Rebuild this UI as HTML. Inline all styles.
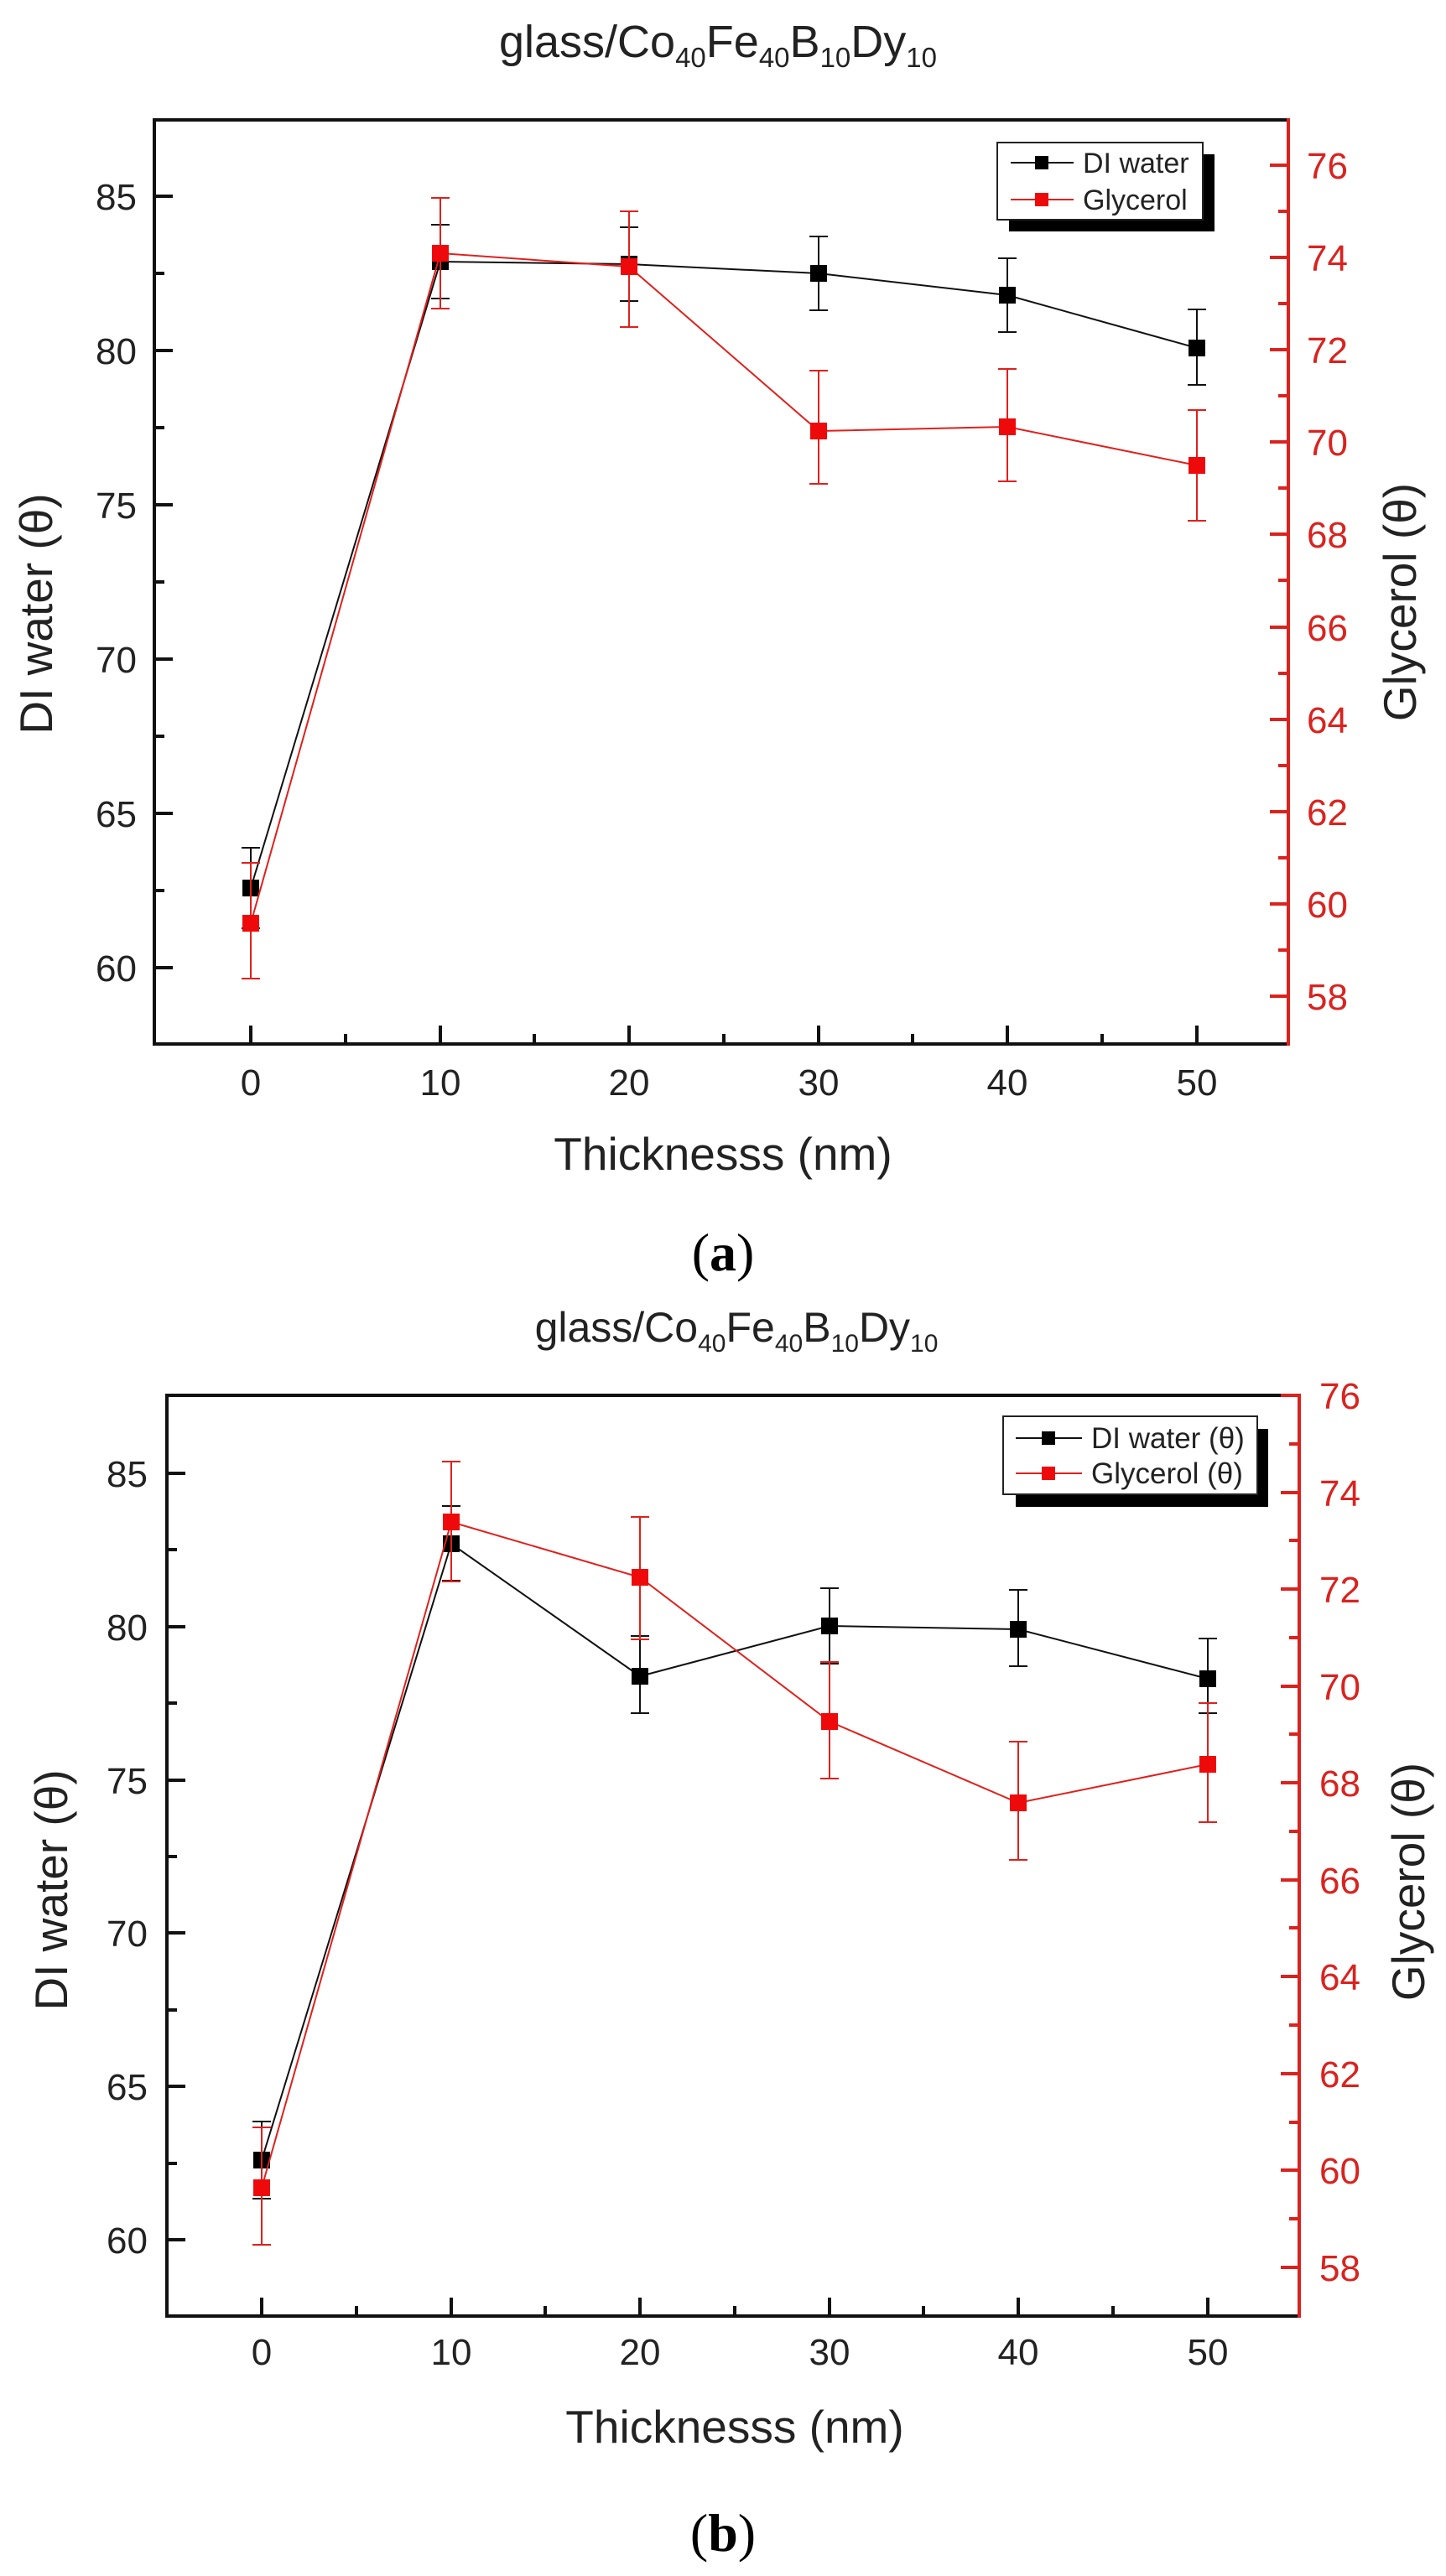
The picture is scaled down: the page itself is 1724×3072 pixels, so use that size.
<!DOCTYPE html>
<html><head><meta charset="utf-8"><style>
html,body{margin:0;padding:0;background:#fff;}
svg{display:block;font-family:"Liberation Sans",Arial,sans-serif;}
</style></head><body>
<svg width="1724" height="3072" viewBox="0 0 1724 3072" xmlns="http://www.w3.org/2000/svg">
<rect width="1724" height="3072" fill="#fff"/>

<!-- ================= CHART A ================= -->
<text x="856" y="68" font-size="54" text-anchor="middle" fill="#222">glass/Co<tspan font-size="33" dy="12">40</tspan><tspan dy="-12">Fe</tspan><tspan font-size="33" dy="12">40</tspan><tspan dy="-12">B</tspan><tspan font-size="33" dy="12">10</tspan><tspan dy="-12">Dy</tspan><tspan font-size="33" dy="12">10</tspan></text>

<g stroke="#111" stroke-width="4" fill="none">
<path d="M184 143 H1536 M184 141 V1247 M182 1245 H1536"/>
<path d="M184 234 h22 M184 418 h22 M184 602 h22 M184 786 h22 M184 970 h22 M184 1154 h22"/>
<path d="M184 326 h12 M184 510 h12 M184 694 h12 M184 878 h12 M184 1062 h12"/>
<path d="M299 1245 v-22 M525 1245 v-22 M750 1245 v-22 M976 1245 v-22 M1201 1245 v-22 M1427 1245 v-22"/>
<path d="M412 1245 v-12 M637 1245 v-12 M863 1245 v-12 M1088 1245 v-12 M1314 1245 v-12"/>
</g>
<g stroke="#d9231f" stroke-width="4" fill="none">
<path d="M1536 141 V1247"/>
<path d="M1536 197 h-22 M1536 307 h-22 M1536 417 h-22 M1536 527 h-22 M1536 637 h-22 M1536 748 h-22 M1536 858 h-22 M1536 968 h-22 M1536 1078 h-22 M1536 1188 h-22"/>
<path d="M1536 252 h-12 M1536 362 h-12 M1536 472 h-12 M1536 582 h-12 M1536 692 h-12 M1536 803 h-12 M1536 913 h-12 M1536 1023 h-12 M1536 1133 h-12"/>
</g>
<g font-size="44" fill="#222" text-anchor="end">
<text x="163" y="250">85</text><text x="163" y="434">80</text><text x="163" y="618">75</text><text x="163" y="802">70</text><text x="163" y="986">65</text><text x="163" y="1170">60</text>
</g>
<g font-size="44" fill="#d9231f">
<text x="1558" y="213">76</text><text x="1558" y="323">74</text><text x="1558" y="433">72</text><text x="1558" y="543">70</text><text x="1558" y="653">68</text><text x="1558" y="764">66</text><text x="1558" y="874">64</text><text x="1558" y="984">62</text><text x="1558" y="1094">60</text><text x="1558" y="1204">58</text>
</g>
<g font-size="44" fill="#222" text-anchor="middle">
<text x="299" y="1306">0</text><text x="525" y="1306">10</text><text x="750" y="1306">20</text><text x="976" y="1306">30</text><text x="1201" y="1306">40</text><text x="1427" y="1306">50</text>
</g>
<text x="862" y="1395" font-size="55" fill="#222" text-anchor="middle">Thicknesss (nm)</text>
<text transform="translate(62,732) rotate(-90)" font-size="55" fill="#222" text-anchor="middle">DI water (θ)</text>
<text transform="translate(1688,718) rotate(-90)" font-size="55" fill="#222" text-anchor="middle">Glycerol (θ)</text>

<g stroke="#111" stroke-width="2" fill="none">
<polyline points="299,1059 525,312 750,315 976,326 1201,352 1427,415"/>
<path d="M299 1011 V1107 M288 1011 h22 M288 1107 h22"/>
<path d="M525 268 V356 M514 268 h22 M514 356 h22"/>
<path d="M750 271 V359 M739 271 h22 M739 359 h22"/>
<path d="M976 282 V370 M965 282 h22 M965 370 h22"/>
<path d="M1201 308 V396 M1190 308 h22 M1190 396 h22"/>
<path d="M1427 369 V459 M1416 369 h22 M1416 459 h22"/>
</g>
<g fill="#000">
<rect x="289" y="1049" width="20" height="20"/><rect x="515" y="302" width="20" height="20"/><rect x="740" y="305" width="20" height="20"/><rect x="966" y="316" width="20" height="20"/><rect x="1191" y="342" width="20" height="20"/><rect x="1417" y="405" width="20" height="20"/>
</g>
<g stroke="#e0201c" stroke-width="2" fill="none">
<polyline points="299,1101 525,302 750,318 976,514 1201,509 1427,555"/>
<path d="M299 1029 V1167 M288 1029 h22 M288 1167 h22"/>
<path d="M525 236 V368 M514 236 h22 M514 368 h22"/>
<path d="M750 252 V390 M739 252 h22 M739 390 h22"/>
<path d="M976 442 V577 M965 442 h22 M965 577 h22"/>
<path d="M1201 440 V574 M1190 440 h22 M1190 574 h22"/>
<path d="M1427 489 V621 M1416 489 h22 M1416 621 h22"/>
</g>
<g fill="#ee0a0a">
<rect x="289" y="1091" width="20" height="20"/><rect x="515" y="292" width="20" height="20"/><rect x="740" y="308" width="20" height="20"/><rect x="966" y="504" width="20" height="20"/><rect x="1191" y="499" width="20" height="20"/><rect x="1417" y="545" width="20" height="20"/>
</g>
<rect x="1203" y="184" width="245" height="92" fill="#000"/>
<rect x="1189" y="170" width="245" height="92" fill="#fff" stroke="#222" stroke-width="2"/>
<path d="M1205 194 H1280" stroke="#111" stroke-width="2"/>
<rect x="1234" y="186" width="16" height="16" fill="#000"/>
<path d="M1205 238 H1280" stroke="#e0201c" stroke-width="2"/>
<rect x="1234" y="230" width="16" height="16" fill="#ee0a0a"/>
<text x="1291" y="206" font-size="34" fill="#222">DI water</text>
<text x="1291" y="250" font-size="34" fill="#222">Glycerol</text>

<text x="862" y="1515" font-size="64" text-anchor="middle" fill="#000" font-family="'Liberation Serif',serif">(<tspan font-weight="bold">a</tspan>)</text>

<!-- ================= CHART B ================= -->
<text x="878" y="1600" font-size="50" text-anchor="middle" fill="#222">glass/Co<tspan font-size="30" dy="12">40</tspan><tspan dy="-12">Fe</tspan><tspan font-size="30" dy="12">40</tspan><tspan dy="-12">B</tspan><tspan font-size="30" dy="12">10</tspan><tspan dy="-12">Dy</tspan><tspan font-size="30" dy="12">10</tspan></text>

<g stroke="#111" stroke-width="4" fill="none">
<path d="M199 1664 H1549 M199 1662 V2764 M197 2762 H1549"/>
<path d="M199 1757 h22 M199 1940 h22 M199 2123 h22 M199 2305 h22 M199 2488 h22 M199 2671 h22"/>
<path d="M199 1848 h12 M199 2031 h12 M199 2214 h12 M199 2397 h12 M199 2580 h12"/>
<path d="M312 2762 v-22 M538 2762 v-22 M763 2762 v-22 M989 2762 v-22 M1214 2762 v-22 M1440 2762 v-22"/>
<path d="M425 2762 v-12 M650 2762 v-12 M876 2762 v-12 M1101 2762 v-12 M1327 2762 v-12"/>
</g>
<g stroke="#d9231f" stroke-width="4" fill="none">
<path d="M1549 1662 V2764"/>
<path d="M1549 1664 h-22 M1549 1780 h-22 M1549 1895 h-22 M1549 2011 h-22 M1549 2126 h-22 M1549 2242 h-22 M1549 2357 h-22 M1549 2473 h-22 M1549 2588 h-22 M1549 2704 h-22"/>
<path d="M1549 1722 h-12 M1549 1837 h-12 M1549 1953 h-12 M1549 2068 h-12 M1549 2184 h-12 M1549 2299 h-12 M1549 2415 h-12 M1549 2531 h-12 M1549 2646 h-12"/>
</g>
<g font-size="44" fill="#222" text-anchor="end">
<text x="176" y="1773">85</text><text x="176" y="1956">80</text><text x="176" y="2139">75</text><text x="176" y="2321">70</text><text x="176" y="2504">65</text><text x="176" y="2687">60</text>
</g>
<g font-size="44" fill="#d9231f">
<text x="1573" y="1680">76</text><text x="1573" y="1796">74</text><text x="1573" y="1911">72</text><text x="1573" y="2027">70</text><text x="1573" y="2142">68</text><text x="1573" y="2258">66</text><text x="1573" y="2373">64</text><text x="1573" y="2489">62</text><text x="1573" y="2604">60</text><text x="1573" y="2720">58</text>
</g>
<g font-size="44" fill="#222" text-anchor="middle">
<text x="312" y="2820">0</text><text x="538" y="2820">10</text><text x="763" y="2820">20</text><text x="989" y="2820">30</text><text x="1214" y="2820">40</text><text x="1440" y="2820">50</text>
</g>
<text x="876" y="2913" font-size="55" fill="#222" text-anchor="middle">Thicknesss (nm)</text>
<text transform="translate(80,2254) rotate(-90)" font-size="55" fill="#222" text-anchor="middle">DI water (θ)</text>
<text transform="translate(1698,2244) rotate(-90)" font-size="55" fill="#222" text-anchor="middle">Glycerol (θ)</text>

<g stroke="#111" stroke-width="2" fill="none">
<polyline points="312,2576 538,1841 763,1999 989,1939 1214,1943 1440,2002"/>
<path d="M312 2530 V2622 M301 2530 h22 M301 2622 h22"/>
<path d="M538 1796 V1885 M527 1796 h22 M527 1885 h22"/>
<path d="M763 1951 V2043 M752 1951 h22 M752 2043 h22"/>
<path d="M989 1894 V1984 M978 1894 h22 M978 1984 h22"/>
<path d="M1214 1896 V1987 M1203 1896 h22 M1203 1987 h22"/>
<path d="M1440 1954 V2043 M1429 1954 h22 M1429 2043 h22"/>
</g>
<g fill="#000">
<rect x="302" y="2566" width="20" height="20"/><rect x="528" y="1831" width="20" height="20"/><rect x="753" y="1989" width="20" height="20"/><rect x="979" y="1929" width="20" height="20"/><rect x="1204" y="1933" width="20" height="20"/><rect x="1430" y="1992" width="20" height="20"/>
</g>
<g stroke="#e0201c" stroke-width="2" fill="none">
<polyline points="312,2609 538,1815 763,1881 989,2053 1214,2150 1440,2104"/>
<path d="M312 2537 V2677 M301 2537 h22 M301 2677 h22"/>
<path d="M538 1743 V1886 M527 1743 h22 M527 1886 h22"/>
<path d="M763 1809 V1955 M752 1809 h22 M752 1955 h22"/>
<path d="M989 1982 V2121 M978 1982 h22 M978 2121 h22"/>
<path d="M1214 2077 V2218 M1203 2077 h22 M1203 2218 h22"/>
<path d="M1440 2031 V2173 M1429 2031 h22 M1429 2173 h22"/>
</g>
<g fill="#ee0a0a">
<rect x="302" y="2599" width="20" height="20"/><rect x="528" y="1805" width="20" height="20"/><rect x="753" y="1871" width="20" height="20"/><rect x="979" y="2043" width="20" height="20"/><rect x="1204" y="2140" width="20" height="20"/><rect x="1430" y="2094" width="20" height="20"/>
</g>
<rect x="1211" y="1704" width="301" height="93" fill="#000"/>
<rect x="1196" y="1689" width="303" height="93" fill="#fff" stroke="#222" stroke-width="2"/>
<path d="M1211 1715 H1290" stroke="#111" stroke-width="2"/>
<rect x="1242" y="1707" width="16" height="16" fill="#000"/>
<path d="M1211 1757 H1290" stroke="#e0201c" stroke-width="2"/>
<rect x="1242" y="1749" width="16" height="16" fill="#ee0a0a"/>
<text x="1301" y="1727" font-size="35" fill="#222">DI water (θ)</text>
<text x="1301" y="1769" font-size="35" fill="#222">Glycerol (θ)</text>

<text x="862" y="3042" font-size="64" text-anchor="middle" fill="#000" font-family="'Liberation Serif',serif">(<tspan font-weight="bold">b</tspan>)</text>
</svg>
</body></html>
